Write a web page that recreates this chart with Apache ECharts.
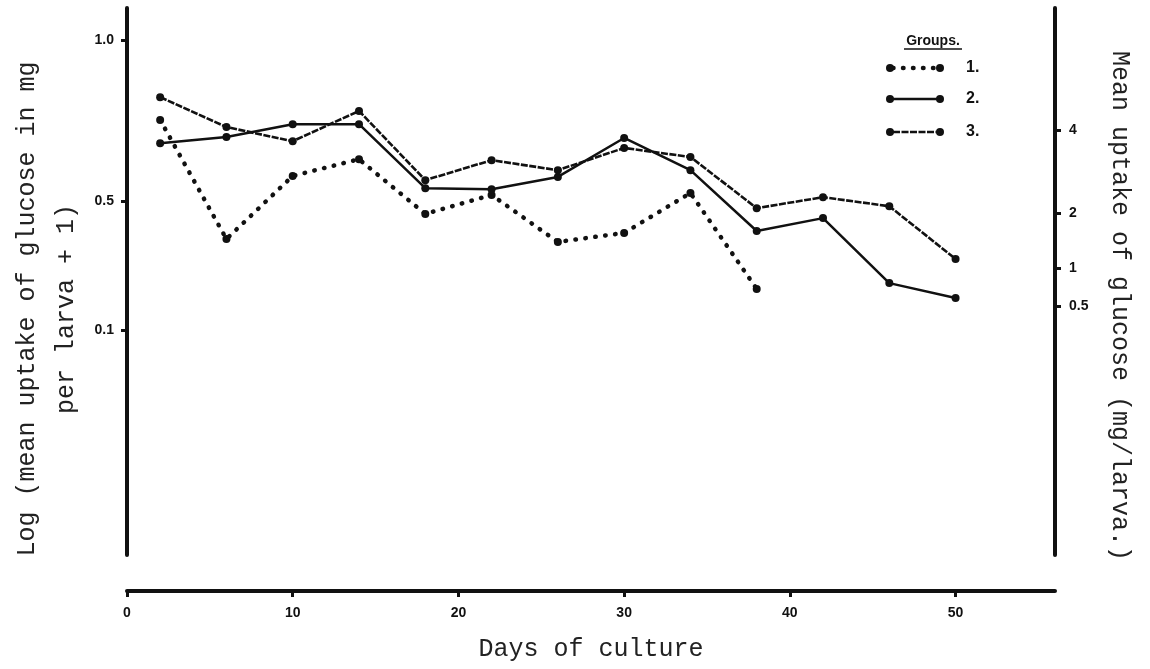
<!DOCTYPE html>
<html>
<head>
<meta charset="utf-8">
<script src="https://cdn.jsdelivr.net/npm/echarts@6/dist/echarts.min.js"></script>
<style>
  html, body { margin: 0; padding: 0; background: #fff; }
  #chart { width: 1150px; height: 669px; }
</style>
</head>
<body>
<div id="chart"></div>
<script>
// days of culture
var days = [2, 6, 10, 14, 18, 22, 26, 30, 34, 38, 42, 46, 50];
// log (mean uptake of glucose in mg per larva + 1)
var group1 = [0.752, 0.382, 0.578, 0.630, 0.460, 0.519, 0.373, 0.401, 0.525, 0.227];
var group2 = [0.680, 0.699, 0.739, 0.739, 0.540, 0.537, 0.575, 0.696, 0.596, 0.407, 0.447, 0.245, 0.199];
var group3 = [0.823, 0.730, 0.686, 0.780, 0.565, 0.627, 0.596, 0.665, 0.637, 0.478, 0.512, 0.484, 0.320];

var xTicks = [0, 10, 20, 30, 40, 50];
var leftTicks = [0.1, 0.5, 1.0];
// right axis: mg/larva, placed where the figure puts them on the log scale
var rightTickLabels = ["0.5", "1", "2", "4"];
var rightTickPos = [0.174, 0.292, 0.463, 0.720];

var INK = "#111";
var tickFont = { color: INK, fontFamily: "Liberation Sans", fontWeight: "bold", fontSize: 14 };
var monoFont = "25px 'Liberation Mono', monospace";

var dotted = { color: INK, width: 4.5, type: [0.5, 9.5], cap: "round" };
var solid = { color: INK, width: 2.5, type: "solid" };
var beaded = { color: INK, width: 2.6, type: [7, 1.5] };

function pairs(vals) {
  return vals.map(function (v, i) { return [days[i], v]; });
}

function lineSeries(name, vals, style) {
  return {
    name: name,
    type: "line",
    data: pairs(vals),
    symbol: "circle",
    symbolSize: 8,
    itemStyle: { color: INK },
    lineStyle: style,
    animation: false
  };
}

// legend rows (sample line with end dots, then label)
function legendRow(y, style, label) {
  return [
    { type: "line", shape: { x1: 893, y1: y, x2: 937, y2: y },
      style: { stroke: INK, lineWidth: style.width, lineDash: style.type === "solid" ? null : style.type, lineCap: style.cap || "butt" } },
    { type: "circle", shape: { cx: 890, cy: y, r: 4 }, style: { fill: INK } },
    { type: "circle", shape: { cx: 940, cy: y, r: 4 }, style: { fill: INK } },
    { type: "text", x: 966, y: y, style: { text: label, font: "bold 16px 'Liberation Sans'", fill: INK,
      align: "left", verticalAlign: "middle", textAlign: "left", textVerticalAlign: "middle" } }
  ];
}

var graphics = [
  { type: "text", x: 933, y: 41, style: { text: "Groups.", font: "bold 14px 'Liberation Sans'", fill: INK,
    align: "center", verticalAlign: "middle", textAlign: "center", textVerticalAlign: "middle" } },
  { type: "line", shape: { x1: 904, y1: 49, x2: 962, y2: 49 }, style: { stroke: INK, lineWidth: 1.3 } },
  // axis titles
  { type: "text", x: 27, y: 309, rotation: Math.PI / 2,
    style: { text: "Log (mean uptake of glucose in mg", font: monoFont, fill: "#222",
      align: "center", verticalAlign: "middle", textAlign: "center", textVerticalAlign: "middle" } },
  { type: "text", x: 66, y: 309, rotation: Math.PI / 2,
    style: { text: "per larva + 1)", font: monoFont, fill: "#222",
      align: "center", verticalAlign: "middle", textAlign: "center", textVerticalAlign: "middle" } },
  { type: "text", x: 1120, y: 306, rotation: -Math.PI / 2,
    style: { text: "Mean uptake of glucose (mg/larva.)", font: monoFont, fill: "#222",
      align: "center", verticalAlign: "middle", textAlign: "center", textVerticalAlign: "middle" } }
]
  .concat(legendRow(68, dotted, "1."))
  .concat(legendRow(99, solid, "2."))
  .concat(legendRow(132, beaded, "3."));

var chart = echarts.init(document.getElementById("chart"), null, { renderer: "canvas" });

chart.setOption({
  backgroundColor: "#fff",
  animation: false,
  grid: { left: 127, right: 95, top: 8, bottom: 114, containLabel: false, outerBoundsMode: "none" },
  xAxis: {
    type: "value",
    min: 0,
    max: 56,
    interval: 10,
    offset: 36,
    splitLine: { show: false },
    axisLine: { onZero: false, lineStyle: { color: INK, width: 4 } },
    axisTick: { show: true, length: 6, lineStyle: { color: INK, width: 3 }, customValues: xTicks },
    axisLabel: Object.assign({ margin: 15, customValues: xTicks }, tickFont),
    name: "Days of culture",
    nameLocation: "middle",
    nameGap: 46,
    nameTextStyle: { color: "#222", fontFamily: "Liberation Mono", fontSize: 25 }
  },
  yAxis: [
    {
      type: "value",
      position: "left",
      min: -0.6,
      max: 1.1,
      splitLine: { show: false },
      axisLine: { show: true, onZero: false, lineStyle: { color: INK, width: 4 } },
      axisTick: { show: true, length: 6, lineStyle: { color: INK, width: 3 }, customValues: leftTicks },
      axisLabel: Object.assign({
        margin: 13,
        customValues: leftTicks,
        formatter: function (v) { return v.toFixed(1); }
      }, tickFont)
    },
    {
      type: "value",
      position: "right",
      min: -0.6,
      max: 1.1,
      splitLine: { show: false },
      axisLine: { show: true, onZero: false, lineStyle: { color: INK, width: 4 } },
      axisTick: { show: true, length: 6, lineStyle: { color: INK, width: 3 }, customValues: rightTickPos },
      axisLabel: Object.assign({
        margin: 14,
        customValues: rightTickPos,
        formatter: function (v) {
          var i = rightTickPos.indexOf(v);
          return i >= 0 ? rightTickLabels[i] : "";
        }
      }, tickFont)
    }
  ],
  graphic: graphics,
  series: [
    lineSeries("1.", group1, dotted),
    lineSeries("2.", group2, solid),
    lineSeries("3.", group3, beaded)
  ]
});
</script>
</body>
</html>
